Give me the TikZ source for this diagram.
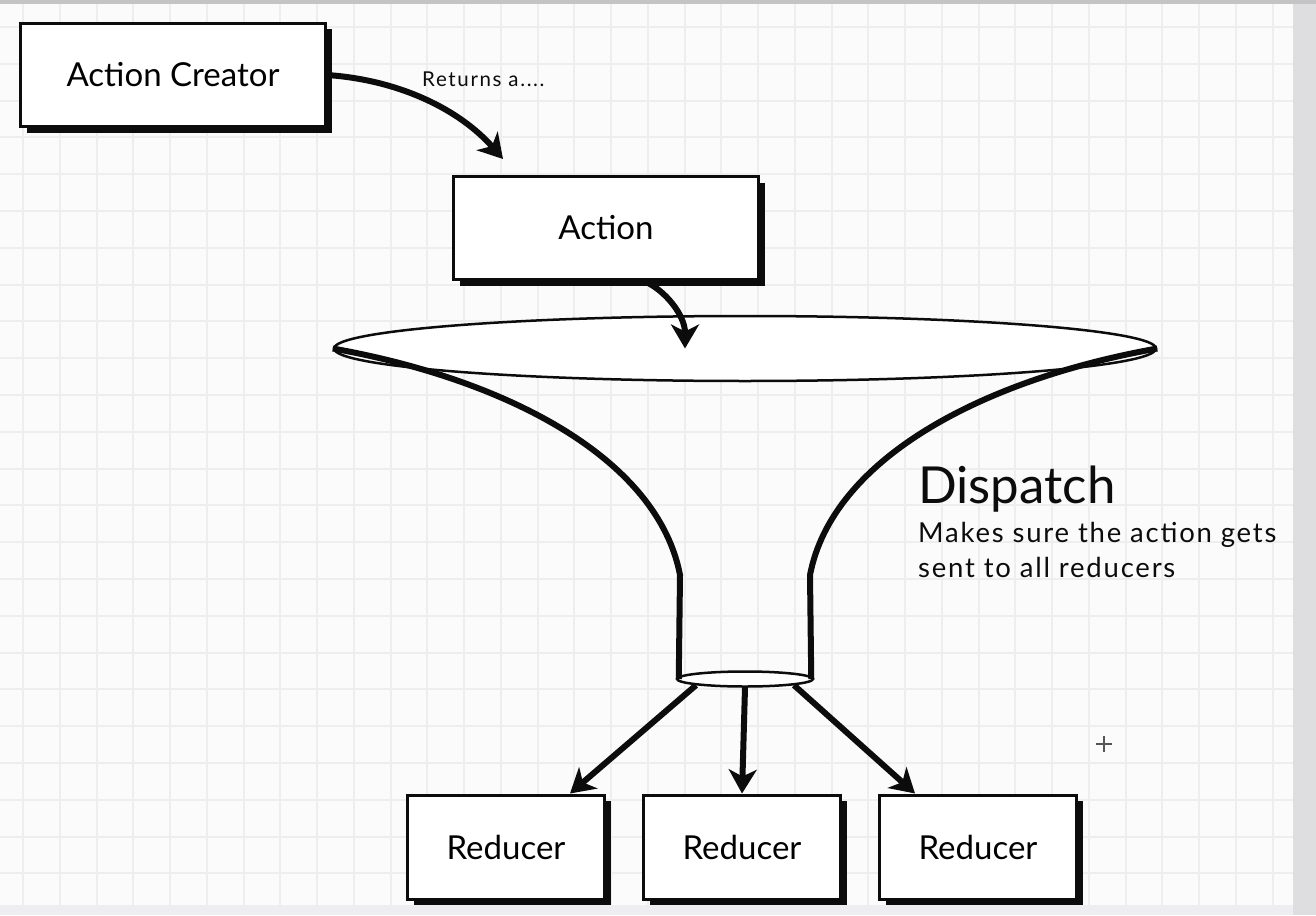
\documentclass[tikz,border=0pt]{standalone}
\usepackage{fontspec}
\setmainfont{Lato}
\newfontfamily\notefont{Lato}[LetterSpace=6.5]
\newfontfamily\smallfont{Lato}[LetterSpace=8]
\usepackage{tikz}
\usetikzlibrary{arrows.meta,shapes.geometric,shadows,backgrounds}
\definecolor{paperwhite}{RGB}{251,251,252}
\definecolor{gridgray}{RGB}{238,238,240}
\definecolor{edgegray}{RGB}{222,221,224}
\definecolor{topgray}{RGB}{196,196,198}
\definecolor{footgray}{RGB}{238,238,240}
\definecolor{inkblack}{RGB}{12,12,12}

\begin{document}
\begin{tikzpicture}[x=1pt, y=-1pt,
  box/.style={draw=inkblack, line width=3pt, fill=white, minimum width=305pt, minimum height=103pt, font=\fontsize{33}{38}\selectfont, drop shadow={shadow xshift=6pt, shadow yshift=-6pt, fill=inkblack, opacity=1}},
  redbox/.style={box, minimum width=197pt, minimum height=104pt},
  rim/.style={draw=inkblack, ellipse, fill=white, inner sep=0pt},
  arr/.style={-{Stealth[length=24pt, width=28pt, inset=7pt]}, line width=6pt, draw=inkblack},
  funnel/.style={line width=6pt, draw=inkblack},
  label/.style={anchor=base west, inner sep=0pt, text=inkblack},
  gridline/.style={gridgray, line width=2pt}
]
\useasboundingbox (0,0) rectangle (1316,915);

% paper and grid
\begin{scope}[on background layer]
\fill[paperwhite] (0,0) rectangle (1293,905);
\foreach \k in {0,...,34} \draw[gridline] ({23+36.75*\k},4) -- ({23+36.75*\k},905);
\foreach \k in {0,...,23} \draw[gridline] (0,{27+36.8*\k}) -- (1293,{27+36.8*\k});
\fill[edgegray] (1293,0) rectangle (1316,915);
\fill[footgray] (0,905) rectangle (1293,915);
\fill[topgray] (0,0) rectangle (1316,4);
\end{scope}

\node[box] (creator) at (173,75) {Action Creator};
\node[box] (act) at (606,228) {Action};
\node[rim, line width=2.5pt, minimum width=822pt, minimum height=65pt] (mouth) at (745,348.5) {};
\node[rim, line width=2.5pt, minimum width=136pt, minimum height=15pt] (neck) at (745,679) {};
\node[redbox] (r1) at (506,847) {Reducer};
\node[redbox] (r2) at (742,847) {Reducer};
\node[redbox] (r3) at (978,847) {Reducer};

% funnel body
\draw[funnel] (mouth.west) .. controls (510,380) and (658,460) .. (680,575) -- ([xshift=3pt]neck.west);
\draw[funnel] (mouth.east) .. controls (980,380) and (832,460) .. (810,575) -- ([xshift=-3pt]neck.east);

\node[label, font=\smallfont\fontsize{20.5}{24}\selectfont] (ret) at (422,87) {Returns a....};
\node[label, font=\fontsize{51}{56}\selectfont] (title) at (918,503) {Dispatch};
\node[label, font=\notefont\fontsize{27.5}{32}\selectfont] (note1) at (918,542) {Makes sure the action gets};
\node[label, font=\notefont\fontsize{27.5}{32}\selectfont] (note2) at (918,577) {sent to all reducers};

\draw[arr] (creator.east) .. controls (400,80) and (460,110) .. ([xshift=-103pt, yshift=16pt]act.north);
\draw[arr] ([xshift=38pt]act.south) .. controls (665,290) and (685,315) .. ([xshift=-60pt]mouth.center);
\draw[arr] (neck.south west) -- ([xshift=64pt]r1.north);
\draw[arr] (neck.south) -- (r2.north);
\draw[arr] (neck.south east) -- ([xshift=-63pt]r3.north);

% cursor
\draw[inkblack!70, line width=1.2pt] (1096,744) -- (1112,744) (1104,736) -- (1104,752);
\end{tikzpicture}
\end{document}
